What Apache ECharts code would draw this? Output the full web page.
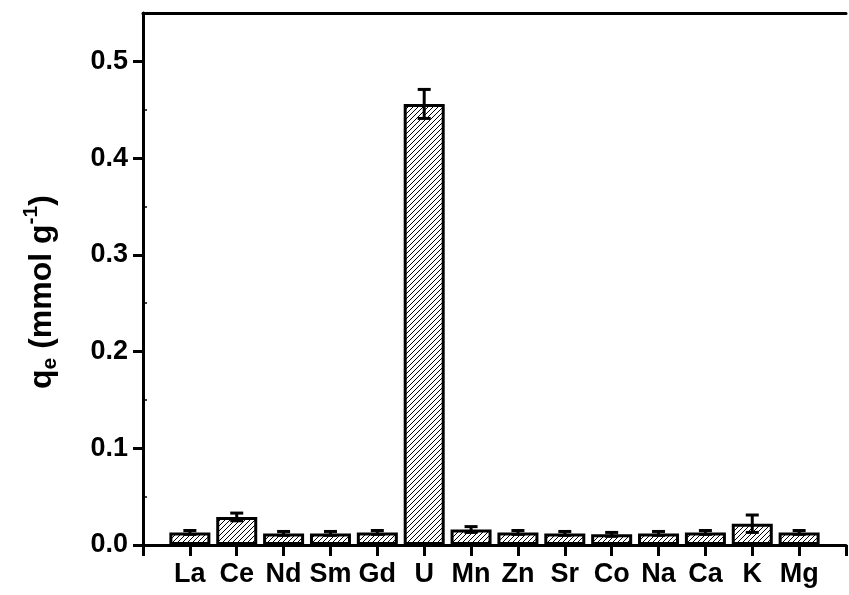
<!DOCTYPE html>
<html>
<head>
<meta charset="utf-8">
<script src="https://cdn.jsdelivr.net/npm/echarts@6/dist/echarts.min.js"></script>
<style>
  html, body { margin: 0; padding: 0; background: #fff; }
  #main { width: 849px; height: 595px; }
</style>
</head>
<body>
<div id="main"></div>
<script>
// adsorption data per element
const elements = ['La', 'Ce', 'Nd', 'Sm', 'Gd', 'U', 'Mn', 'Zn', 'Sr', 'Co', 'Na', 'Ca', 'K', 'Mg'];
const qe = [0.013, 0.029, 0.012, 0.012, 0.013, 0.456, 0.016, 0.013, 0.012, 0.011, 0.012, 0.013, 0.022, 0.013];
const qeErr = [0.002, 0.004, 0.002, 0.002, 0.002, 0.015, 0.003, 0.002, 0.002, 0.002, 0.002, 0.002, 0.009, 0.002];
const yTicks = [0, 0.1, 0.2, 0.3, 0.4, 0.5];
const yMinor = [0.05, 0.15, 0.25, 0.35, 0.45];

// pad both ends so the bars sit one step in from the axes
const cats = [''].concat(elements, ['']);
const barData = [null].concat(qe, [null]);
const errData = elements.map((e, i) => [i + 1, qe[i] - qeErr[i], qe[i] + qeErr[i]]);

// hatch pattern "/"
function makeHatch() {
  const c = document.createElement('canvas');
  const s = 5;
  c.width = s; c.height = s;
  const ctx = c.getContext('2d');
  ctx.fillStyle = '#fff';
  ctx.fillRect(0, 0, s, s);
  ctx.strokeStyle = '#000';
  ctx.lineWidth = 1;
  ctx.beginPath();
  ctx.moveTo(0, s); ctx.lineTo(s, 0);
  ctx.moveTo(-1, 1); ctx.lineTo(1, -1);
  ctx.moveTo(s - 1, s + 1); ctx.lineTo(s + 1, s - 1);
  ctx.stroke();
  return c;
}

const chart = echarts.init(document.getElementById('main'), null, { renderer: 'canvas' });
const font = 'Liberation Sans, Arial, sans-serif';

const option = {
  backgroundColor: '#fff',
  animation: false,
  grid: { left: 143, right: -9, top: 13, bottom: 50 },
  // y axis title, placed a bit below the grid centre like the original
  graphic: [{
    type: 'text',
    x: 42,
    y: 292,
    rotation: Math.PI / 2,
    style: {
      text: '{a|q}{b|e}{a| (mmol g}{c|-1}{a|)}',
      align: 'center',
      verticalAlign: 'middle',
      rich: {
        a: { fontFamily: font, fontWeight: 'bold', fontSize: 32, fill: '#000', lineHeight: 44, verticalAlign: 'middle' },
        b: { fontFamily: font, fontWeight: 'bold', fontSize: 21, fill: '#000', lineHeight: 44, verticalAlign: 'bottom', padding: [0, 0, 3, 0] },
        c: { fontFamily: font, fontWeight: 'bold', fontSize: 21, fill: '#000', lineHeight: 44, verticalAlign: 'top', padding: [1, 0, 0, 0] }
      }
    }
  }],
  xAxis: [{
    type: 'category',
    data: cats,
    boundaryGap: false,
    axisLine: { lineStyle: { color: '#000', width: 3 } },
    axisTick: { length: 11, lineStyle: { color: '#000', width: 3 } },
    axisLabel: { margin: 16, color: '#000', fontFamily: font, fontWeight: 'bold', fontSize: 27, interval: 0 },
    splitLine: { show: false }
  }, {
    type: 'category',
    data: cats,
    position: 'top',
    boundaryGap: false,
    axisLine: { onZero: false, lineStyle: { color: '#000', width: 3 } },
    axisTick: { show: false },
    axisLabel: { show: false }
  }],
  yAxis: [{
    type: 'value',
    min: 0,
    max: 0.55,
    interval: 0.1,
    axisLine: { show: true, lineStyle: { color: '#000', width: 3 } },
    axisTick: { show: true, length: 10, customValues: yTicks, lineStyle: { color: '#000', width: 3 } },
    axisLabel: {
      margin: 15, color: '#000', fontFamily: font, fontWeight: 'bold', fontSize: 27,
      customValues: yTicks,
      formatter: v => v.toFixed(1)
    },
    splitLine: { show: false }
  }, {
    type: 'value',
    position: 'left',
    min: 0,
    max: 0.55,
    interval: 0.1,
    axisLine: { show: false },
    axisTick: { show: true, inside: true, length: 4, customValues: yMinor, lineStyle: { color: '#000', width: 1.5 } },
    axisLabel: { show: false },
    splitLine: { show: false }
  }],
  series: [{
    type: 'bar',
    data: barData,
    barWidth: 41,
    itemStyle: {
      color: { image: makeHatch(), repeat: 'repeat' },
      borderColor: '#000',
      borderWidth: 3
    },
    z: 2
  }, {
    type: 'custom',
    data: errData,
    z: 3,
    renderItem: function (params, api) {
      const x = api.value(0);
      const lo = api.coord([x, api.value(1)]);
      const hi = api.coord([x, api.value(2)]);
      const half = 6.5;
      const style = { stroke: '#000', lineWidth: 3 };
      return {
        type: 'group',
        children: [
          { type: 'line', shape: { x1: lo[0], y1: lo[1], x2: hi[0], y2: hi[1] }, style: style },
          { type: 'line', shape: { x1: lo[0] - half, y1: lo[1], x2: lo[0] + half, y2: lo[1] }, style: style },
          { type: 'line', shape: { x1: hi[0] - half, y1: hi[1], x2: hi[0] + half, y2: hi[1] }, style: style }
        ]
      };
    }
  }]
};

chart.setOption(option);
</script>
</body>
</html>
